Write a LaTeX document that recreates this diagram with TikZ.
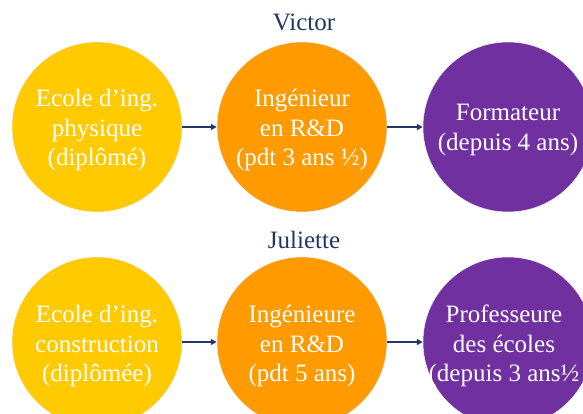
\documentclass[tikz,border=0pt]{standalone}
\usepackage{fontspec}
\setmainfont{Liberation Serif}
\usetikzlibrary{arrows.meta}

\definecolor{stepyellow}{HTML}{FFCA00}
\definecolor{steporange}{HTML}{FF9A00}
\definecolor{steppurple}{HTML}{7030A0}
\definecolor{navy}{HTML}{1F3864}

\begin{document}
\begin{tikzpicture}[x=1pt,y=1pt,
  disc/.style={circle, minimum size=170pt, inner sep=0pt, draw=black!8, line width=0.5pt},
  disctext/.style={align=center, inner sep=0pt, text=white,
    font=\fontsize{25}{29.5}\selectfont},
  title/.style={text=navy, font=\fontsize{25}{29.5}\selectfont},
  link/.style={navy, line width=1.4pt, -{Triangle[length=6pt,width=6pt]}}
]
\useasboundingbox (0,0) rectangle (583,-414);
\clip (0,0) rectangle (583,-414);

% Victor
\node[title] (t1) at (304,-22) {Victor};
\node[disc, fill=stepyellow] (a1) at (97,-127) {};
\node[disc, fill=steporange] (b1) at (302,-127) {};
\node[disc, fill=steppurple] (c1) at (508,-127) {};
\node[disctext] (ta1) at ([yshift=-3pt]a1.center) {Ecole d’ing.\\physique\\(diplômé)};
\node[disctext] (tb1) at ([yshift=-3pt]b1.center) {Ingénieur\\en R\&D\\(pdt 3 ans ½)};
\node[disctext] (tc1) at ([yshift=-3pt]c1.center) {Formateur\\(depuis 4 ans)};
\draw[link] (a1.east) -- (b1.west);
\draw[link] (b1.east) -- (c1.west);

% Juliette
\node[title] (t2) at (304,-240) {Juliette};
\node[disc, fill=stepyellow] (a2) at (97,-342) {};
\node[disc, fill=steporange] (b2) at (302,-342) {};
\node[disc, fill=steppurple] (c2) at (508,-342) {};
\node[disctext] (ta2) at ([yshift=-4pt]a2.center) {Ecole d’ing.\\construction\\(diplômée)};
\node[disctext] (tb2) at ([yshift=-4pt]b2.center) {Ingénieure\\en R\&D\\(pdt 5 ans)};
\node[disctext] (tc2) at ([xshift=-4pt,yshift=-4pt]c2.center) {Professeure\\des écoles\\(depuis 3 ans½};
\draw[link] (a2.east) -- (b2.west);
\draw[link] (b2.east) -- (c2.west);
\end{tikzpicture}
\end{document}
